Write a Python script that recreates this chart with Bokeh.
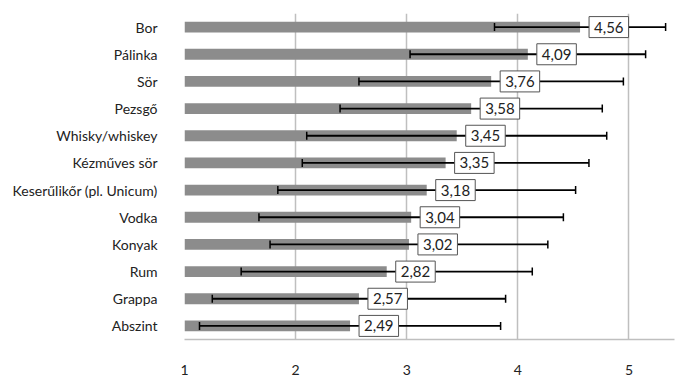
from bokeh.plotting import figure
from bokeh.models import ColumnDataSource, Label, Whisker, TeeHead, FixedTicker, Range1d
from bokeh.embed import file_html
from bokeh.resources import INLINE

categories = ["Bor", "Pálinka", "Sör", "Pezsgő", "Whisky/whiskey", "Kézműves sör",
              "Keserűlikőr (pl. Unicum)", "Vodka", "Konyak", "Rum", "Grappa", "Abszint"]
means = [4.56, 4.09, 3.76, 3.58, 3.45, 3.35, 3.18, 3.04, 3.02, 2.82, 2.57, 2.49]
sds = [0.77, 1.06, 1.19, 1.18, 1.35, 1.29, 1.34, 1.37, 1.25, 1.31, 1.32, 1.355]
x_ticks = [1, 2, 3, 4, 5]

FONT = "Lato"
n = len(categories)
ypos = [n - i - 0.5 for i in range(n)]

src = ColumnDataSource(dict(
    y=ypos,
    mean=means,
    lower=[m - s for m, s in zip(means, sds)],
    upper=[m + s for m, s in zip(means, sds)],
))

p = figure(width=689, height=377, y_range=Range1d(0, n),
           x_range=Range1d(1, 5.41), output_backend="svg", toolbar_location=None,
           min_border_left=184, min_border_right=15, min_border_top=13, min_border_bottom=26)

p.hbar(y="y", left=1, right="mean", height=0.4, source=src,
       fill_color="#8c8c8c", line_color=None)

w = Whisker(source=src, base="y", lower="lower", upper="upper", dimension="width",
            line_color="black", line_width=1.8, level="annotation",
            lower_head=TeeHead(size=8, line_color="black", line_width=1.5),
            upper_head=TeeHead(size=8, line_color="black", line_width=1.5))
p.add_layout(w)

for yy, m in zip(ypos, means):
    p.add_layout(Label(x=m, y=yy, text=f"{m:.2f}".replace(".", ","), x_offset=9,
                       text_align="left", text_baseline="middle", level="overlay",
                       text_font=FONT, text_font_size="15px", text_color="#222222",
                       background_fill_color="white", border_line_color="#555555",
                       border_line_width=1, padding=5))

p.xaxis.ticker = FixedTicker(ticks=x_ticks)
p.xaxis.axis_line_color = "#bfbfbf"
p.xaxis.axis_line_width = 1.5
p.xaxis.major_tick_line_color = None
p.xaxis.minor_tick_line_color = None
p.xaxis.major_label_standoff = 19
p.xaxis.major_label_text_font = FONT
p.xaxis.major_label_text_font_size = "14px"
p.xaxis.major_label_text_color = "#222222"

p.yaxis.ticker = FixedTicker(ticks=ypos)
p.yaxis.major_label_overrides = {yy: c for yy, c in zip(ypos, categories)}
p.yaxis.axis_line_color = None
p.yaxis.major_tick_line_color = None
p.yaxis.minor_tick_line_color = None
p.yaxis.major_label_standoff = 21
p.yaxis.major_label_text_font = FONT
p.yaxis.major_label_text_font_size = "14px"
p.yaxis.major_label_text_color = "#222222"

p.xgrid.grid_line_color = "#bfbfbf"
p.xgrid.grid_line_width = 1.5
p.ygrid.grid_line_color = None
p.outline_line_color = None

open("out.html", "w").write(file_html(p, INLINE))
